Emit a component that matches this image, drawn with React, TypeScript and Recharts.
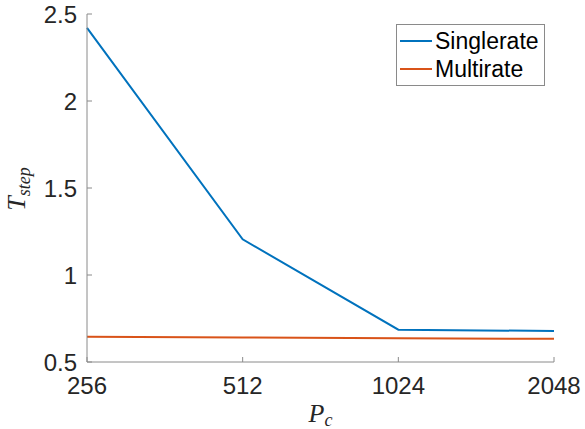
import React from 'react';
import { LineChart, Line, XAxis, YAxis, Legend } from 'recharts';

const categories = ['256', '512', '1024', '2048'];
const seriesNames = ['Singlerate', 'Multirate'];
const singlerate = [2.42, 1.205, 0.686, 0.678];
const multirate = [0.645, 0.641, 0.637, 0.633];
const yTicks = [0.5, 1, 1.5, 2, 2.5];
const yTickLabels = ['0.5', '1', '1.5', '2', '2.5'];

const data = categories.map((c, i) => ({ pc: c, singlerate: singlerate[i], multirate: multirate[i] }));

const AXIS = '#8a8a8a';
const TEXT = '#262626';
const SANS = '"Liberation Sans", Arial, Helvetica, sans-serif';
const SERIF = '"Liberation Serif", "Times New Roman", serif';
const TICK_FONT = 24;
const TL = 5;

const BottomTick = (props: any) => {
  const { x, y, payload } = props;
  return (
    <g>
      <line x1={x} y1={y} x2={x} y2={y - TL} stroke={AXIS} strokeWidth={1} />
      <text x={x} y={y + 15} dy="0.72em" textAnchor="middle" fontSize={TICK_FONT} fontFamily={SANS} fill={TEXT}>
        {payload.value}
      </text>
    </g>
  );
};

const TopTick = (props: any) => {
  const { x, y } = props;
  return <line x1={x} y1={y} x2={x} y2={y + TL} stroke={AXIS} strokeWidth={1} />;
};

const LeftTick = (props: any) => {
  const { x, y, payload } = props;
  const idx = yTicks.indexOf(payload.value);
  return (
    <g>
      <line x1={x} y1={y} x2={x + TL} y2={y} stroke={AXIS} strokeWidth={1} />
      <text x={x - 10} y={y} dy="0.36em" textAnchor="end" fontSize={TICK_FONT} fontFamily={SANS} fill={TEXT}>
        {idx >= 0 ? yTickLabels[idx] : payload.value}
      </text>
    </g>
  );
};

const RightTick = (props: any) => {
  const { x, y } = props;
  return <line x1={x} y1={y} x2={x - TL} y2={y} stroke={AXIS} strokeWidth={1} />;
};

const YLabel = (props: any) => {
  const vb = props.viewBox || { x: 0, y: 14, width: 87, height: 348 };
  const cx = vb.x + 25;
  const cy = vb.y + vb.height / 2 + 1;
  return (
    <text
      x={cx}
      y={cy}
      transform={`rotate(-90, ${cx}, ${cy})`}
      textAnchor="middle"
      fontFamily={SERIF}
      fontStyle="italic"
      fill={TEXT}
    >
      <tspan fontSize={26}>T</tspan>
      <tspan fontSize={18} dy={5}>step</tspan>
    </text>
  );
};

const XLabel = (props: any) => {
  const vb = props.viewBox || { x: 87, y: 362, width: 467, height: 67 };
  const cx = vb.x + vb.width / 2;
  const cy = vb.y + 60;
  return (
    <text x={cx} y={cy} textAnchor="middle" fontFamily={SERIF} fontStyle="italic" fill={TEXT}>
      <tspan fontSize={26}>P</tspan>
      <tspan fontSize={18} dy={4}>c</tspan>
    </text>
  );
};

const LegendBox = (props: any) => {
  const raw = props.payload || [];
  const payload = [...raw].sort(
    (a: any, b: any) => seriesNames.indexOf(a.value) - seriesNames.indexOf(b.value)
  );
  return (
    <svg width={149} height={62} style={{ display: 'block' }}>
      <rect x={0.5} y={0.5} width={148} height={61} fill="#fff" stroke={AXIS} strokeWidth={1} />
      {payload.map((p: any, i: number) => (
        <g key={i}>
          <line x1={4} x2={36} y1={17 + 28 * i} y2={17 + 28 * i} stroke={p.color} strokeWidth={2} />
          <text x={39} y={17 + 28 * i} dy="0.36em" fontSize={23} fontFamily={SANS} fill="#000">
            {p.value}
          </text>
        </g>
      ))}
    </svg>
  );
};

export default function App() {
  return (
    <div style={{ position: 'absolute', left: 0, top: 0, width: 585, height: 429, background: '#fff' }}>
      <LineChart width={585} height={429} data={data} margin={{ top: 14, right: 31, bottom: 0, left: 0 }}>
        <XAxis
          dataKey="pc"
          type="category"
          height={67}
          tickSize={0}
          tickMargin={0}
          tickLine={false}
          axisLine={{ stroke: AXIS, strokeWidth: 1 }}
          tick={<BottomTick />}
          interval={0}
          label={{ content: <XLabel /> }}
        />
        <XAxis
          xAxisId="top"
          dataKey="pc"
          type="category"
          orientation="top"
          height={0}
          tickSize={0}
          tickMargin={0}
          tickLine={false}
          axisLine={{ stroke: AXIS, strokeWidth: 1 }}
          tick={<TopTick />}
          interval={0}
        />
        <YAxis
          domain={[0.5, 2.5]}
          ticks={yTicks}
          width={87}
          tickSize={0}
          tickMargin={0}
          tickLine={false}
          axisLine={{ stroke: AXIS, strokeWidth: 1 }}
          tick={<LeftTick />}
          interval={0}
          allowDataOverflow
          label={{ content: <YLabel /> }}
        />
        <YAxis
          yAxisId="right"
          orientation="right"
          domain={[0.5, 2.5]}
          ticks={yTicks}
          width={0}
          tickSize={0}
          tickMargin={0}
          tickLine={false}
          axisLine={{ stroke: AXIS, strokeWidth: 1 }}
          tick={<RightTick />}
          interval={0}
          allowDataOverflow
        />
        <Legend
          layout="vertical"
          align="center"
          verticalAlign="middle"
          content={<LegendBox />}
          wrapperStyle={{ position: 'absolute', left: 396, top: 24, width: 149, height: 62 }}
        />
        <Line
          type="linear"
          dataKey="singlerate"
          name="Singlerate"
          stroke="#0072BD"
          strokeWidth={2}
          dot={false}
          activeDot={false}
          isAnimationActive={false}
        />
        <Line
          type="linear"
          dataKey="multirate"
          name="Multirate"
          stroke="#D95319"
          strokeWidth={2}
          dot={false}
          activeDot={false}
          isAnimationActive={false}
        />
      </LineChart>
    </div>
  );
}
